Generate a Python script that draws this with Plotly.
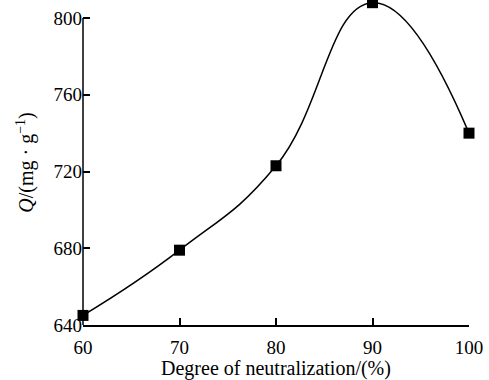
import plotly.graph_objects as go

x_vals = [60, 70, 80, 90, 100]
q_vals = [645, 679, 723, 808, 740]
x_ticks = [60, 70, 80, 90, 100]
y_ticks = [640, 680, 720, 760, 800]

tick_font = dict(family="Liberation Serif", size=19, color="black")
title_font = dict(family="Liberation Serif", size=20, color="black")

fig = go.Figure()
fig.add_trace(go.Scatter(
    x=x_vals, y=q_vals, mode="lines+markers",
    line=dict(shape="spline", smoothing=1.3, color="black", width=1.5),
    marker=dict(symbol="square", size=11, color="black"),
    cliponaxis=False, showlegend=False,
))

# y axis line only spans the tick range (640-800)
fig.add_shape(type="line", xref="paper", yref="y", x0=0, x1=0,
              y0=y_ticks[0], y1=y_ticks[-1],
              line=dict(color="black", width=1.5))

fig.update_layout(
    width=489, height=380,
    margin=dict(l=83, r=20, t=0, b=55),
    plot_bgcolor="white", paper_bgcolor="white",
    font=tick_font,
)
fig.update_xaxes(
    range=[60, 100], tickvals=x_ticks, ticktext=[str(v) for v in x_ticks],
    ticks="inside", ticklen=7, tickwidth=1.5, tickcolor="black",
    showline=True, linecolor="black", linewidth=1.5, showgrid=False, zeroline=False,
    title=dict(text="Degree of neutralization/(%)", font=title_font, standoff=4),
    tickfont=tick_font, ticklabelstandoff=4,
)
fig.update_yaxes(
    range=[640, 809.4], tickvals=y_ticks, ticktext=[str(v) for v in y_ticks],
    ticks="inside", ticklen=7, tickwidth=1.5, tickcolor="black",
    showline=False, showgrid=False, zeroline=False,
    title=dict(text="<i>Q</i>/(mg · g<sup>−1</sup>)", font=title_font, standoff=14),
    tickfont=tick_font,
)

fig.write_html("out.html")
